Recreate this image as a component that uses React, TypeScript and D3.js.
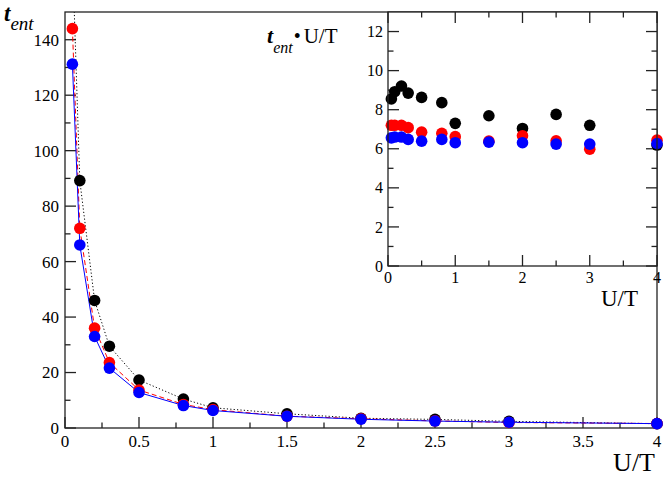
import React from 'react';
import * as d3 from 'd3';

const uOverT = [0.05, 0.1, 0.2, 0.3, 0.5, 0.8, 1, 1.5, 2, 2.5, 3, 4];
const tentBlack = [171, 89.2, 46, 29.5, 17.3, 10.45, 7.3, 5.13, 3.52, 3.1, 2.4, 1.55];
const tentRed = [144, 72, 36, 23.6, 13.7, 8.5, 6.62, 4.26, 3.33, 2.56, 1.99, 1.61];
const tentBlue = [131.2, 66, 33, 21.6, 12.8, 8.1, 6.31, 4.23, 3.15, 2.5, 2.08, 1.57];
const insetBlack = [8.55, 8.92, 9.21, 8.85, 8.63, 8.36, 7.3, 7.69, 7.04, 7.76, 7.2, 6.19];
const insetRed = [7.2, 7.2, 7.2, 7.08, 6.85, 6.79, 6.62, 6.39, 6.67, 6.41, 5.98, 6.44];
const insetBlue = [6.56, 6.6, 6.6, 6.48, 6.39, 6.48, 6.31, 6.34, 6.31, 6.24, 6.24, 6.27];

const mainXTicks = [0, 0.5, 1, 1.5, 2, 2.5, 3, 3.5, 4];
const mainXMinor = [0.25, 0.75, 1.25, 1.75, 2.25, 2.75, 3.25, 3.75];
const mainYTicks = [0, 20, 40, 60, 80, 100, 120, 140];
const mainYMinor = [10, 30, 50, 70, 90, 110, 130];
const insetXTicks = [0, 1, 2, 3, 4];
const insetXMinor = [0.5, 1.5, 2.5, 3.5];
const insetYTicks = [0, 2, 4, 6, 8, 10, 12];
const insetYMinor = [1, 3, 5, 7, 9, 11];

const series = [
  { t: tentBlack, ti: insetBlack, color: '#000000', dash: '1.2,2.2' },
  { t: tentRed, ti: insetRed, color: '#ff0000', dash: '5,3' },
  { t: tentBlue, ti: insetBlue, color: '#0000ff', dash: '' },
];

const FONT = "'Liberation Serif', 'Times New Roman', serif";

export default function App() {
  const W = 664, H = 478;
  const mL = 65, mR = 657, mT = 12, mB = 428;
  const x = d3.scaleLinear().domain([0, 4]).range([mL, mR]);
  const y = d3.scaleLinear().domain([0, 150]).range([mB, mT]);
  const iL = 388, iR = 657, iT = 12, iB = 266;
  const xi = d3.scaleLinear().domain([0, 4]).range([iL, iR]);
  const yi = d3.scaleLinear().domain([0, 13]).range([iB, iT]);
  const line = d3.line<[number, number]>().x(d => x(d[0])).y(d => y(d[1]));
  const axisColor = '#222';
  const R = 5.8;

  return (
    <svg width={W} height={H} style={{ position: 'absolute', left: 0, top: 0, background: '#fff' }} fontFamily={FONT}>
      <defs>
        <clipPath id="mainClip">
          <rect x={mL} y={mT} width={mR - mL} height={mB - mT} />
        </clipPath>
      </defs>
      <rect x={0} y={0} width={W} height={H} fill="#fff" />
      {/* main frame */}
      <rect x={mL} y={mT} width={mR - mL} height={mB - mT} fill="none" stroke={axisColor} strokeWidth={1.3} />
      {/* main ticks */}
      {mainXTicks.map(v => (
        <line key={'mx' + v} x1={x(v)} x2={x(v)} y1={mB} y2={mB - 11} stroke={axisColor} strokeWidth={1.3} />
      ))}
      {mainXMinor.map(v => (
        <line key={'mxm' + v} x1={x(v)} x2={x(v)} y1={mB} y2={mB - 5.5} stroke={axisColor} strokeWidth={1.3} />
      ))}
      {mainYTicks.map(v => (
        <line key={'my' + v} x1={mL} x2={mL + 11} y1={y(v)} y2={y(v)} stroke={axisColor} strokeWidth={1.3} />
      ))}
      {mainYMinor.map(v => (
        <line key={'mym' + v} x1={mL} x2={mL + 5.5} y1={y(v)} y2={y(v)} stroke={axisColor} strokeWidth={1.3} />
      ))}
      {mainXTicks.map(v => (
        <text key={'mxl' + v} x={x(v)} y={447} fontSize={17} textAnchor="middle" fill="#000">{String(v)}</text>
      ))}
      {mainYTicks.map(v => (
        <text key={'myl' + v} x={59} y={y(v)} dy="0.35em" fontSize={17} textAnchor="end" fill="#000">{String(v)}</text>
      ))}
      {/* main lines */}
      <g clipPath="url(#mainClip)">
        {series.map((s, i) => (
          <path key={'l' + i} d={line(uOverT.map((u, j) => [u, s.t[j]] as [number, number])) || ''}
            fill="none" stroke={s.color} strokeWidth={1} strokeDasharray={s.dash || undefined} />
        ))}
      </g>
      {/* main markers */}
      {series.map((s, i) => (
        <g key={'m' + i}>
          {uOverT.map((u, j) => s.t[j] <= 150 ? (
            <circle key={j} cx={x(u)} cy={y(s.t[j])} r={R} fill={s.color} />
          ) : null)}
        </g>
      ))}
      {/* axis titles */}
      <text x={655} y={471} fontSize={26} textAnchor="end" fill="#000">U/T</text>
      <text x={4} y={21} fill="#000" fontStyle="italic">
        <tspan fontSize={23} fontWeight="bold">t</tspan>
        <tspan fontSize={19} dy={9}>ent</tspan>
      </text>

      {/* inset */}
      <rect x={iL} y={iT} width={iR - iL} height={iB - iT} fill="#fff" />
      {insetXTicks.map(v => (
        <g key={'ix' + v}>
          <line x1={xi(v)} x2={xi(v)} y1={iB} y2={iB - 11} stroke={axisColor} strokeWidth={1.3} />
          <line x1={xi(v)} x2={xi(v)} y1={iT} y2={iT + 11} stroke={axisColor} strokeWidth={1.3} />
        </g>
      ))}
      {insetXMinor.map(v => (
        <g key={'ixm' + v}>
          <line x1={xi(v)} x2={xi(v)} y1={iB} y2={iB - 5.5} stroke={axisColor} strokeWidth={1.3} />
          <line x1={xi(v)} x2={xi(v)} y1={iT} y2={iT + 5.5} stroke={axisColor} strokeWidth={1.3} />
        </g>
      ))}
      {insetYTicks.map(v => (
        <g key={'iy' + v}>
          <line x1={iL} x2={iL + 11} y1={yi(v)} y2={yi(v)} stroke={axisColor} strokeWidth={1.3} />
          <line x1={iR} x2={iR - 11} y1={yi(v)} y2={yi(v)} stroke={axisColor} strokeWidth={1.3} />
        </g>
      ))}
      {insetYMinor.map(v => (
        <g key={'iym' + v}>
          <line x1={iL} x2={iL + 5.5} y1={yi(v)} y2={yi(v)} stroke={axisColor} strokeWidth={1.3} />
          <line x1={iR} x2={iR - 5.5} y1={yi(v)} y2={yi(v)} stroke={axisColor} strokeWidth={1.3} />
        </g>
      ))}
      {insetXTicks.map(v => (
        <text key={'ixl' + v} x={xi(v)} y={283} fontSize={16} textAnchor="middle" fill="#000">{String(v)}</text>
      ))}
      {insetYTicks.map(v => (
        <text key={'iyl' + v} x={383} y={yi(v)} dy="0.35em" fontSize={16} textAnchor="end" fill="#000">{String(v)}</text>
      ))}
      {series.map((s, i) => (
        <g key={'im' + i}>
          {uOverT.map((u, j) => (
            <circle key={j} cx={xi(u)} cy={yi(s.ti[j])} r={R} fill={s.color} />
          ))}
        </g>
      ))}
      <rect x={iL} y={iT} width={iR - iL} height={iB - iT} fill="none" stroke={axisColor} strokeWidth={1.3} />
      <text x={638} y={306} fontSize={23} textAnchor="end" fill="#000">U/T</text>
      <text x={267} y={43} fill="#000">
        <tspan fontSize={22} fontStyle="italic" fontWeight="bold">t</tspan>
        <tspan fontSize={16} fontStyle="italic" dy={10}>ent</tspan>
        <tspan fontSize={20} dy={-10} dx={1}>•</tspan>
        <tspan fontSize={21} dx={3}>U/T</tspan>
      </text>
    </svg>
  );
}
